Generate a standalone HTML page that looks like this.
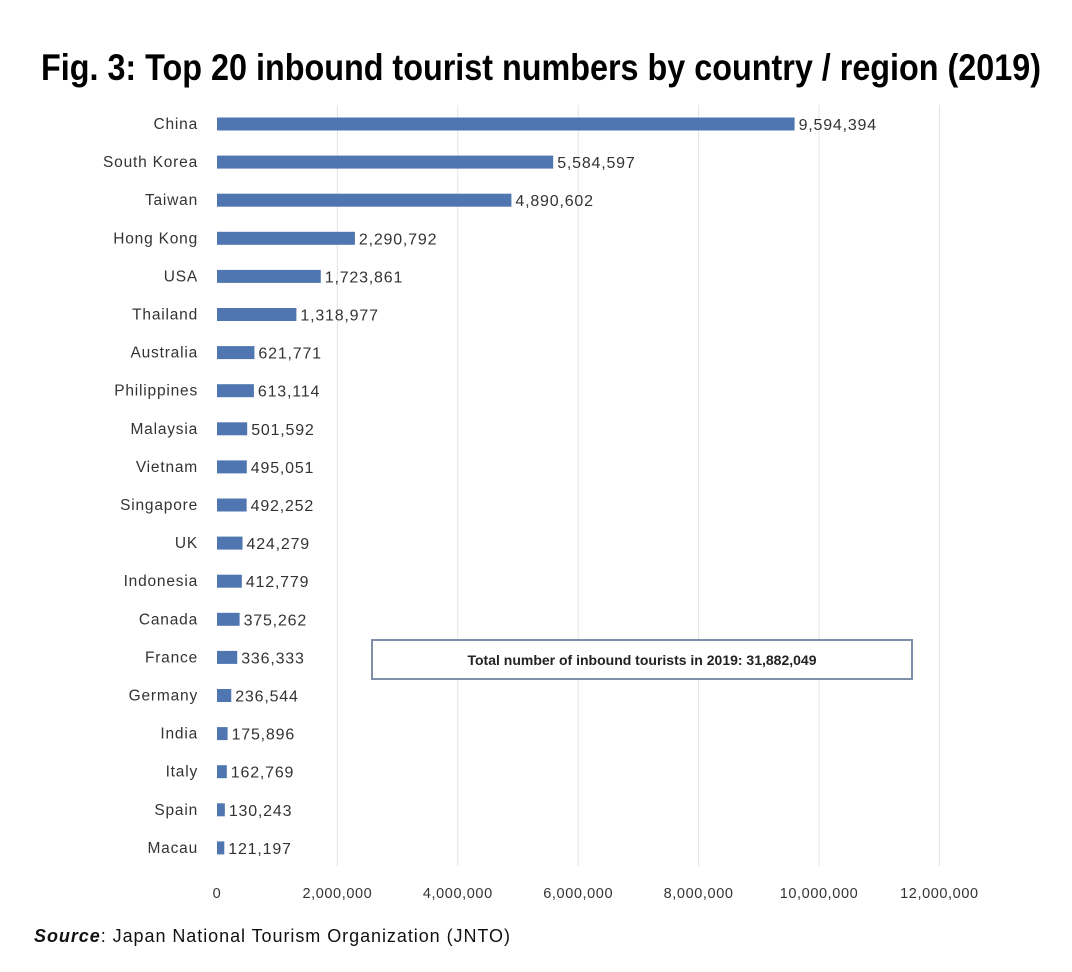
<!DOCTYPE html>
<html><head><meta charset="utf-8"><style>
html,body{margin:0;padding:0;background:#fff;}
svg{display:block;font-family:"Liberation Sans",sans-serif;}
</style></head><body>
<svg id="chart" width="1072" height="972" viewBox="0 0 1072 972" xmlns="http://www.w3.org/2000/svg">
<text x="541" y="80" text-anchor="middle" font-family="'Liberation Sans Narrow','Liberation Sans',sans-serif" font-weight="bold" font-size="37" textLength="1000" lengthAdjust="spacingAndGlyphs" fill="#000">Fig. 3: Top 20 inbound tourist numbers by country / region (2019)</text>
<g id="grid"></g>
<g id="bars"></g>
<g id="xaxis"></g>
<rect x="372" y="640" width="540" height="39" fill="#fff" stroke="#7f8fa9" stroke-width="2"/>
<text x="642" y="665" text-anchor="middle" font-weight="bold" font-size="14" fill="#222">Total number of inbound tourists in 2019: 31,882,049</text>
<text x="34" y="942" font-size="18" fill="#111" textLength="476" lengthAdjust="spacing"><tspan font-weight="bold" font-style="italic">Source</tspan>: Japan National Tourism Organization (JNTO)</text>
</svg>
<script>
const categories=["China","South Korea","Taiwan","Hong Kong","USA","Thailand","Australia","Philippines","Malaysia","Vietnam","Singapore","UK","Indonesia","Canada","France","Germany","India","Italy","Spain","Macau"];
const values=[9594394,5584597,4890602,2290792,1723861,1318977,621771,613114,501592,495051,492252,424279,412779,375262,336333,236544,175896,162769,130243,121197];
const ticks=[0,2000000,4000000,6000000,8000000,10000000,12000000];
const NS="http://www.w3.org/2000/svg";
const x0=217,pxPer=60.2/1e6;
const xs=v=>x0+v*pxPer;
const y0=124,step=38.1;
const ys=i=>y0+i*step;
const fmt=v=>v.toLocaleString("en-US");
function mk(t,a,p){const e=document.createElementNS(NS,t);for(const k in a)e.setAttribute(k,a[k]);p.appendChild(e);return e;}
const grid=document.getElementById("grid"),bars=document.getElementById("bars"),xa=document.getElementById("xaxis");
ticks.forEach(t=>{
  if(t>0){const l=mk("line",{x1:xs(t),x2:xs(t),y1:105,y2:866,stroke:"#e4e4e4","stroke-width":1},grid);
  
  }
  const tx=mk("text",{x:xs(t),y:898,"text-anchor":"middle","font-size":14.5,"letter-spacing":0.6,fill:"#333"},xa);
  tx.textContent=fmt(t);
  
  
});
categories.forEach((c,i)=>{
  const y=ys(i);
  const lb=mk("text",{x:198,y:y+5,"text-anchor":"end","font-size":15.5,"letter-spacing":0.8,fill:"#333"},bars);
  lb.textContent=c;
  
  
  const r=mk("rect",{x:x0,y:y-6.5,width:xs(values[i])-x0,height:13,fill:"#4f76b0"},bars);
  
  
  const v=mk("text",{x:xs(values[i])+4,y:y+6,"font-size":16,"letter-spacing":0.8,fill:"#333"},bars);
  v.textContent=fmt(values[i]);
  
  
});
</script>
</body></html>
